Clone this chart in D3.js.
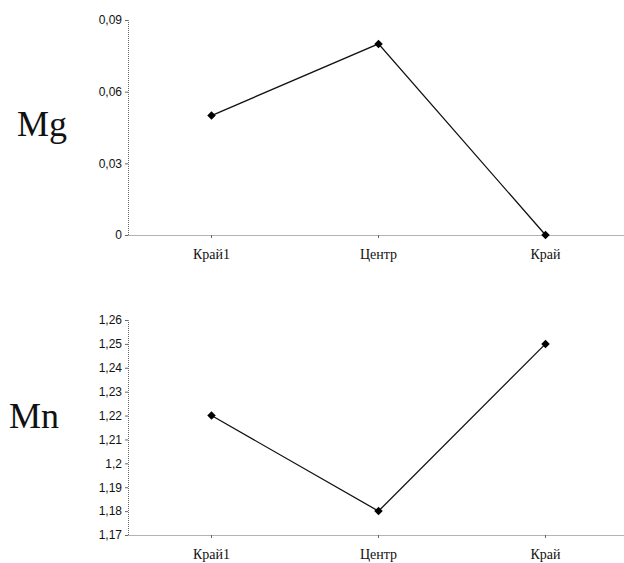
<!DOCTYPE html>
<html><head><meta charset="utf-8">
<script src="https://cdn.jsdelivr.net/npm/d3@7"></script>
<style>body{margin:0;background:#fff}</style>
</head><body>
<svg id="c" width="624" height="563"></svg>
<script>
const categories = ["Край1", "Центр", "Край"];
const mgValues = [0.05, 0.08, 0];
const mnValues = [1.22, 1.18, 1.25];
const mgTicks = [0, 0.03, 0.06, 0.09];
const mnTicks = [1.17, 1.18, 1.19, 1.20, 1.21, 1.22, 1.23, 1.24, 1.25, 1.26];

const svg = d3.select("#c");
const fmt = d => String(+d.toFixed(2)).replace(".", ",");

function panel(label, values, ticks, top, bottom, labelX, labelY) {
  const x = d3.scaleBand().domain(categories).range([128, 629]);
  const y = d3.scaleLinear().domain([ticks[0], ticks[ticks.length-1]]).range([bottom, top]);
  const g = svg.append("g");
  const ya = g.append("g").attr("transform", "translate(128,0)")
    .call(d3.axisLeft(y).tickValues(ticks).tickSize(3).tickFormat(fmt));
  ya.select(".domain").attr("stroke", "#666").attr("stroke-dasharray", "1,1");
  ya.selectAll(".tick line").attr("stroke", "#666");
  ya.selectAll("text").attr("font-family", "Liberation Sans")
    .attr("font-size", 12).attr("fill", "#111").attr("x", -6);
  const xa = g.append("g").attr("transform", `translate(0,${bottom})`)
    .call(d3.axisBottom(x).tickSize(3).tickSizeOuter(0));
  xa.select(".domain").attr("stroke", "#666").attr("stroke-dasharray", "1,1");
  xa.selectAll(".tick line").attr("stroke", "#666");
  xa.selectAll("text").attr("font-family", "Liberation Serif")
    .attr("font-size", 14).attr("fill", "#111").attr("dy", "1.25em");
  const line = d3.line().x((d, i) => x(categories[i]) + x.bandwidth()/2).y(d => y(d));
  g.append("path").datum(values).attr("d", line).attr("fill", "none")
    .attr("stroke", "#111").attr("stroke-width", 1.3);
  g.selectAll(".m").data(values).enter().append("rect")
    .attr("x", -3).attr("y", -3).attr("width", 6).attr("height", 6)
    .attr("transform", (d, i) => `translate(${x(categories[i]) + x.bandwidth()/2},${y(d)}) rotate(45)`)
    .attr("fill", "#000");
  g.append("text").attr("x", labelX).attr("y", labelY).attr("font-family", "Liberation Serif")
    .attr("font-size", 36).attr("fill", "#111").text(label);
}

panel("Mg", mgValues, mgTicks, 20, 235, 17, 136);
panel("Mn", mnValues, mnTicks, 320, 535, 9, 428);
</script>
</body></html>
